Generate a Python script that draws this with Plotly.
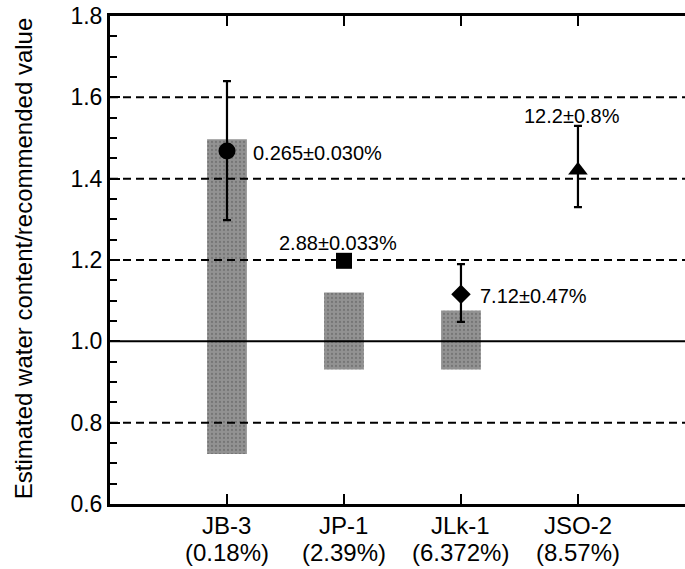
import plotly.graph_objects as go

# ---- data ----
cat_names = ["JB-3", "JP-1", "JLk-1", "JSO-2"]
cat_contents = ["(0.18%)", "(2.39%)", "(6.372%)", "(8.57%)"]
cat_pos = [1, 2, 3, 4]

# grey range boxes (low, high)
box_low = [0.723, 0.931, 0.931, None]
box_high = [1.497, 1.120, 1.076, None]

# estimated points with error bars
point_val = [1.468, 1.198, 1.116, 1.421]
err_plus = [0.172, 0.0, 0.074, 0.109]
err_minus = [0.170, 0.0, 0.068, 0.091]
point_symbols = ["circle", "square", "diamond", "triangle-up"]
point_sizes = [17, 16, 15, 17]
point_labels = ["0.265±0.030%", "2.88±0.033%", "7.12±0.47%", "12.2±0.8%"]

y_ticks = [0.6, 0.8, 1.0, 1.2, 1.4, 1.6, 1.8]
y_ticktext = ["0.6", "0.8", "1.0", "1.2", "1.4", "1.6", "1.8"]
dashed_lines = [0.8, 1.2, 1.4, 1.6]
solid_line = 1.0

FONT = "Liberation Sans, Arial, sans-serif"
PLOT_H = 488  # plot area height in px (569 - 16 - 65)

fig = go.Figure()

bx = [p for p, lo in zip(cat_pos, box_low) if lo is not None]
bbase = [lo for lo in box_low if lo is not None]
bh = [hi - lo for hi, lo in zip(box_high, box_low) if lo is not None]
fig.add_trace(go.Bar(
    x=bx, y=bh, base=bbase, width=0.34,
    marker=dict(color="#8a8a8a", line=dict(width=0),
                pattern=dict(shape=".", fgcolor="#5a5a5a", bgcolor="#929292",
                             size=4, solidity=0.25)),
    showlegend=False, hoverinfo="skip"))

for p, v, ep, em, sym, sz in zip(cat_pos, point_val, err_plus, err_minus, point_symbols, point_sizes):
    fig.add_trace(go.Scatter(
        x=[p], y=[v], mode="markers",
        marker=dict(symbol=sym, size=sz, color="black", line=dict(width=0)),
        error_y=dict(type="data", array=[ep], arrayminus=[em], visible=ep > 0,
                     color="black", thickness=2.2, width=4),
        showlegend=False))

shapes = []
for yv in dashed_lines:
    shapes.append(dict(type="line", xref="paper", x0=0, x1=1, yref="y", y0=yv, y1=yv,
                       line=dict(color="black", width=2, dash="8px,5px"), layer="above"))
shapes.append(dict(type="line", xref="paper", x0=0, x1=1, yref="y", y0=solid_line, y1=solid_line,
                   line=dict(color="black", width=2), layer="above"))

lab_font = dict(size=20, family=FONT, color="black")
annotations = [
    dict(x=cat_pos[0], y=point_val[0], xref="x", yref="y", text=point_labels[0], showarrow=False,
         xanchor="left", xshift=24, yshift=-2, font=lab_font),
    dict(x=cat_pos[1], y=point_val[1], xref="x", yref="y", text=point_labels[1], showarrow=False,
         xanchor="center", xshift=-6, yshift=18, font=lab_font),
    dict(x=cat_pos[2], y=point_val[2], xref="x", yref="y", text=point_labels[2], showarrow=False,
         xanchor="left", xshift=17, yshift=-2, font=lab_font),
    dict(x=cat_pos[3], y=point_val[3] + err_plus[3], xref="x", yref="y", text=point_labels[3], showarrow=False,
         xanchor="center", xshift=-6, yshift=10, font=lab_font),
    dict(x=-0.15, y=0.503, xref="paper", yref="paper", text="Estimated water content/recommended value",
         textangle=-90, showarrow=False, xanchor="center", yanchor="middle",
         font=dict(size=24, family=FONT, color="black")),
]
cat_font = dict(size=24, family=FONT, color="black")
for p, name, cont in zip(cat_pos, cat_names, cat_contents):
    annotations.append(dict(x=p, y=-21 / PLOT_H, xref="x", yref="paper", text=name, showarrow=False,
                            xanchor="center", yanchor="middle", font=cat_font))
    annotations.append(dict(x=p, y=-48 / PLOT_H, xref="x", yref="paper", text=cont, showarrow=False,
                            xanchor="center", yanchor="middle", font=cat_font))

fig.update_layout(
    width=685, height=569,
    margin=dict(l=110, r=0, t=16, b=65),
    plot_bgcolor="white", paper_bgcolor="white",
    shapes=shapes, annotations=annotations,
    font=dict(family=FONT, color="black"),
    xaxis=dict(range=[0, 4.915], tickvals=cat_pos, showticklabels=False,
               showgrid=False, zeroline=False, showline=True, linecolor="black", linewidth=3,
               mirror="ticks", ticks="inside", ticklen=10, tickwidth=2, tickcolor="black"),
    yaxis=dict(range=[0.6, 1.8], tickvals=y_ticks, ticktext=y_ticktext,
               showgrid=False, zeroline=False, showline=True, linecolor="black", linewidth=3,
               ticks="inside", ticklen=10, tickwidth=2, tickcolor="black",
               minor=dict(dtick=0.05, ticks="inside", ticklen=7, tickwidth=2, tickcolor="black",
                          showgrid=False),
               tickfont=dict(size=23, family=FONT, color="black")),
)

fig.write_html("out.html")
